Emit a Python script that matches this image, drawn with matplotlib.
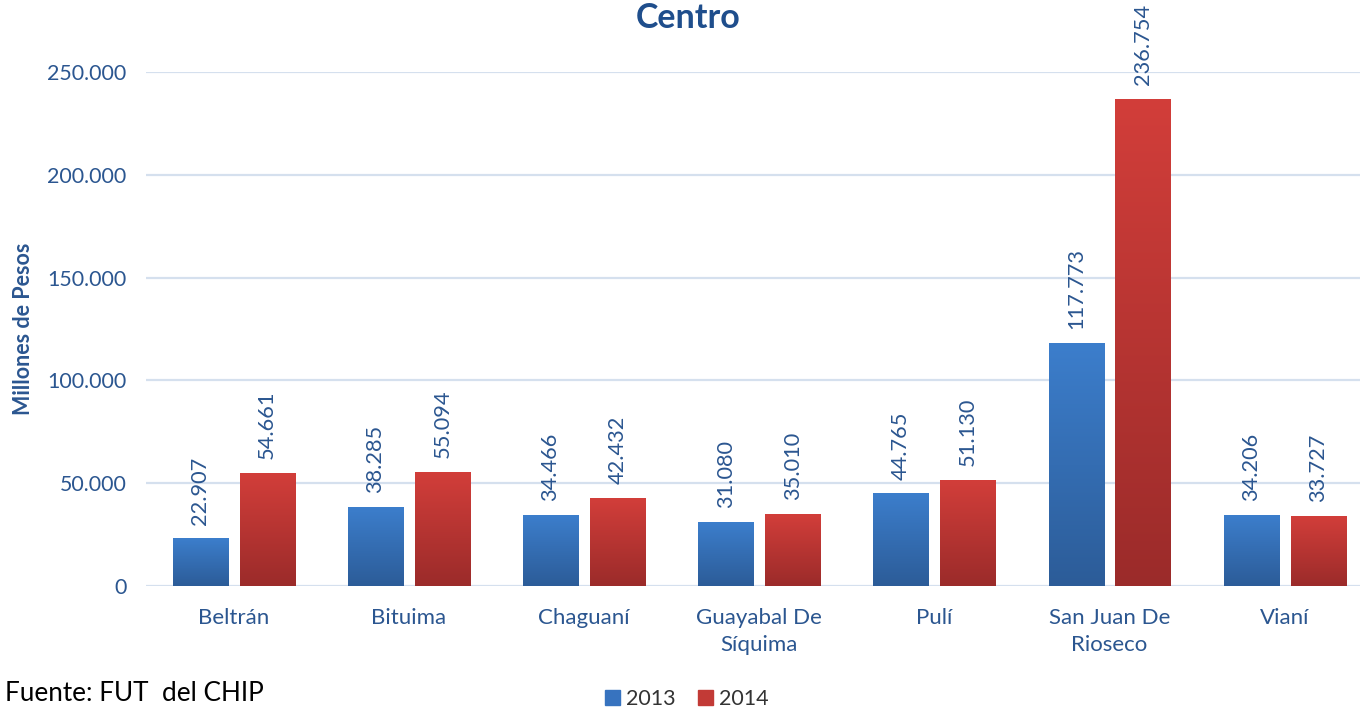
import numpy as np
import matplotlib
matplotlib.use("Agg")
import matplotlib.pyplot as plt
from matplotlib.colors import LinearSegmentedColormap
from matplotlib.patches import Rectangle

categories = ["Beltrán", "Bituima", "Chaguaní", "Guayabal De\nSíquima", "Pulí", "San Juan De\nRioseco", "Vianí"]
series_names = ["2013", "2014"]
values_2013 = [22907, 38285, 34466, 31080, 44765, 117773, 34206]
values_2014 = [54661, 55094, 42432, 35010, 51130, 236754, 33727]
yticks = [0, 50000, 100000, 150000, 200000, 250000]
ytick_labels = ["0", "50.000", "100.000", "150.000", "200.000", "250.000"]

plt.rcParams['font.family'] = ['Lato', 'DejaVu Sans']
TXT = '#2B5690'

fig = plt.figure(figsize=(13.6, 7.11), dpi=100)
ax = fig.add_axes([0.1074, 0.1758, 0.8926, 0.7229])

blue_cmap = LinearSegmentedColormap.from_list('b', ['#2C5C98', '#3C7ECC'])
red_cmap = LinearSegmentedColormap.from_list('r', ['#9B2B2A', '#D23E3A'])
grad = np.linspace(0, 1, 256).reshape(-1, 1)

width = 0.314
offsets = [-0.191, 0.191]
x = np.arange(len(categories))

for vals, off, cmap in [(values_2013, offsets[0], blue_cmap),
                        (values_2014, offsets[1], red_cmap)]:
    for xi, v in zip(x, vals):
        x0 = xi + off - width / 2
        ax.imshow(grad, extent=[x0, x0 + width, 0, v], origin='lower', cmap=cmap,
                  aspect='auto', zorder=3, interpolation='bilinear')
        ax.text(xi + off, v + 7000, f"{v:,}".replace(",", "."), rotation=90,
                ha='center', va='bottom', fontsize=15.7, color=TXT, clip_on=False)

ax.set_xlim(-0.5, 6.43)
ax.set_ylim(0, 250000)
ax.set_yticks(yticks)
ax.set_yticklabels(ytick_labels, fontsize=15.4, color=TXT)
ax.set_xticks(x)
ax.set_xticklabels(categories, fontsize=16, color=TXT, linespacing=1.4)
ax.tick_params(axis='x', length=0, pad=16)
ax.tick_params(axis='y', length=0, pad=14)
for s in ax.spines.values():
    s.set_visible(False)
ax.grid(axis='y', color='#D5E0EE', linewidth=1.6, zorder=0)
ax.set_axisbelow(True)

ax.set_ylabel("Millones de Pesos", fontsize=15.5, fontweight='bold', color=TXT)
ax.yaxis.set_label_coords(-0.092, 0.5)
fig.text(0.506, 0.975, "Centro", ha='center', va='center', fontsize=24.5, fontweight='bold', color='#1F4E8C')

handles = [Rectangle((0, 0), 1, 1, color='#3773BF'), Rectangle((0, 0), 1, 1, color='#C23A36')]
fig.legend(handles, series_names, loc='center', bbox_to_anchor=(0.505, 0.017), ncol=2, frameon=False,
           fontsize=15.5, handlelength=0.7, handleheight=0.7, handletextpad=0.3, columnspacing=1.0,
           labelcolor='#333333')
fig.text(0.004, 0.025, "Fuente: FUT  del CHIP", ha='left', va='center', fontsize=18.8, color='black')

fig.savefig("out.png", dpi=100)
